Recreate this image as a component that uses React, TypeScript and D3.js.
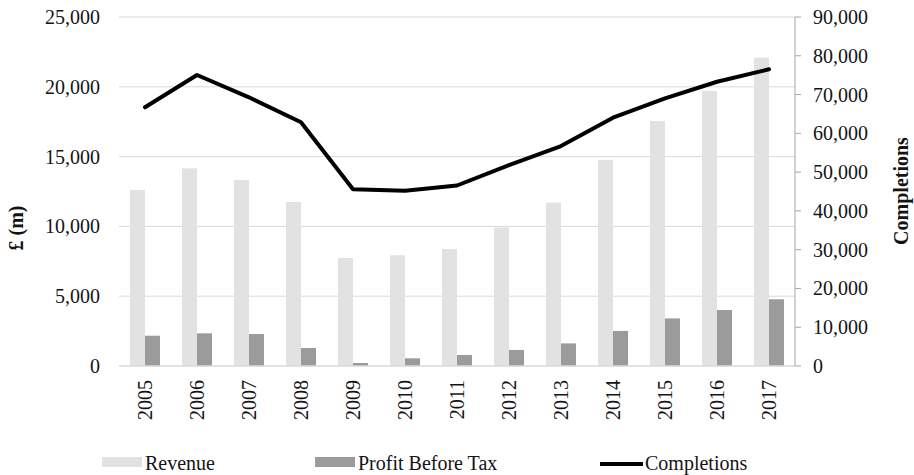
import React from 'react';
import * as d3 from 'd3';

// housebuilder revenue / profit (left, £m) and completions (right)

const years = ['2005', '2006', '2007', '2008', '2009', '2010', '2011', '2012', '2013', '2014', '2015', '2016', '2017'];
const revenue = [12610, 14160, 13320, 11750, 7740, 7930, 8380, 9930, 11700, 14760, 17550, 19700, 22090];
const profit = [2170, 2340, 2290, 1290, 215, 550, 790, 1150, 1620, 2510, 3410, 4010, 4780];
const completions = [66710, 75040, 69290, 62840, 45560, 45200, 46550, 51830, 56730, 64030, 69030, 73310, 76510];
const leftTicks = [0, 5000, 10000, 15000, 20000, 25000];
const rightTicks = [0, 10000, 20000, 30000, 40000, 50000, 60000, 70000, 80000, 90000];

const W = 914;
const H = 475;
const left = 119;
const right = 795;
const top = 17;
const bottom = 366;

const font = '"Liberation Serif", "Times New Roman", serif';
const revColor = '#e2e2e2';
const pbtColor = '#9b9b9b';
const textColor = '#141414';

export default function App() {
  const x = d3.scaleBand().domain(years).range([left, right]).paddingInner(0).paddingOuter(0);
  const yL = d3.scaleLinear().domain([0, 25000]).range([bottom, top]);
  const yR = d3.scaleLinear().domain([0, 90000]).range([bottom, top]);
  const fmt = d3.format(',');
  const barW = 15;

  const line = d3.line<number>()
    .x((_, i) => (x(years[i]) as number) + x.bandwidth() / 2)
    .y((d) => yR(d));

  return (
    <div style={{ position: 'absolute', left: 0, top: 0 }}>
      <svg width={W} height={H} style={{ display: 'block', fontFamily: font }}>
        <rect width={W} height={H} fill='#fff' />
        {/* gridlines */}
        {leftTicks.slice(1).map((t) => (
          <line key={'g' + t} x1={left} x2={right} y1={yL(t)} y2={yL(t)} stroke='#d9d9d9' strokeWidth={1} />
        ))}
        {/* bars */}
        {years.map((yr, i) => {
          const cx = (x(yr) as number) + x.bandwidth() / 2;
          return (
            <g key={yr}>
              <rect x={cx - barW} y={yL(revenue[i])} width={barW} height={bottom - yL(revenue[i])} fill={revColor} />
              <rect x={cx} y={yL(profit[i])} width={barW} height={bottom - yL(profit[i])} fill={pbtColor} />
            </g>
          );
        })}
        {/* x axis */}
        <line x1={left} x2={right} y1={bottom} y2={bottom} stroke='#d9d9d9' strokeWidth={1.5} />
        {years.map((yr) => {
          const cx = (x(yr) as number) + x.bandwidth() / 2;
          return (
            <text key={'l' + yr} transform={`translate(${cx + 7},380) rotate(-90)`} textAnchor='end'
              fontSize={20} fill={textColor}>{yr}</text>
          );
        })}
        {/* left axis labels */}
        {leftTicks.map((t) => (
          <text key={'yl' + t} x={100} y={yL(t)} dy='0.35em' textAnchor='end' fontSize={20} fill={textColor}>{fmt(t)}</text>
        ))}
        <text transform={`translate(23,228) rotate(-90)`} textAnchor='middle' fontSize={20} fontWeight='bold' fill={textColor}>£ (m)</text>
        {/* right axis */}
        <line x1={right} x2={right} y1={top} y2={bottom} stroke='#a6a6a6' strokeWidth={1} />
        {rightTicks.map((t) => (
          <g key={'yr' + t}>
            <line x1={right} x2={right + 6} y1={yR(t)} y2={yR(t)} stroke='#a6a6a6' strokeWidth={1} />
            <text x={813} y={yR(t)} dy='0.35em' textAnchor='start' fontSize={20} fill={textColor}>{fmt(t)}</text>
          </g>
        ))}
        <text transform={`translate(908,191) rotate(-90)`} textAnchor='middle' fontSize={20} fontWeight='bold' fill={textColor}>Completions</text>
        {/* completions line */}
        <path d={line(completions) || ''} fill='none' stroke='#000' strokeWidth={4} strokeLinejoin='round' strokeLinecap='round' />
        {/* legend */}
        <rect x={102} y={457} width={40} height={10} fill={revColor} />
        <text x={145} y={470} fontSize={20} fill={textColor}>Revenue</text>
        <rect x={315} y={457} width={40} height={10} fill={pbtColor} />
        <text x={358} y={470} fontSize={20} fill={textColor}>Profit Before Tax</text>
        <line x1={600} x2={643} y1={464} y2={464} stroke='#000' strokeWidth={4} />
        <text x={645} y={470} fontSize={20} fill={textColor}>Completions</text>
      </svg>
    </div>
  );
}
